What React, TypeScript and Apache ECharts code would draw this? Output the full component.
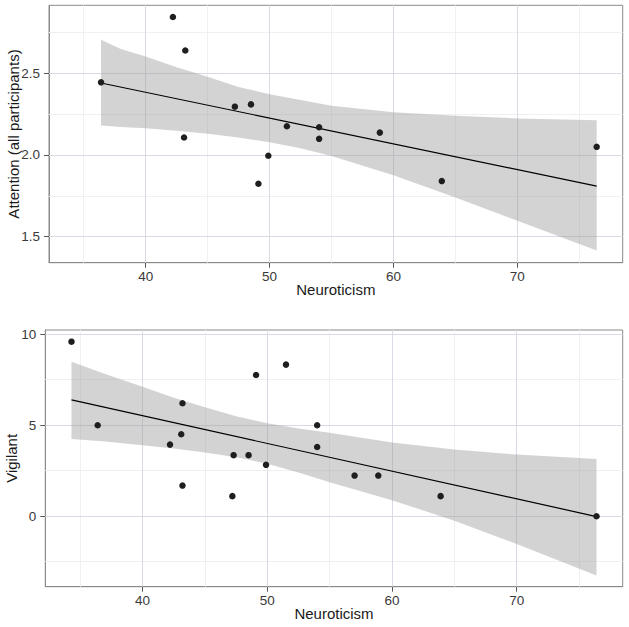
import React, { useEffect, useRef } from "react";
import * as echarts from "echarts";

// ---- data ----
const xTicks = [40, 50, 60, 70];
const xMinor = [35, 45, 55, 65, 75];
const attnTicks = [1.5, 2.0, 2.5];
const attnMinor = [1.75, 2.25, 2.75];
const vigTicks = [0, 5, 10];
const vigMinor = [-2.5, 2.5, 7.5];

const attnX = [36.4, 42.2, 43.2, 43.1, 47.2, 48.5, 51.4, 49.9, 49.1, 54.0, 54.0, 58.9, 63.9, 76.4];
const attnY = [2.445, 2.845, 2.64, 2.107, 2.296, 2.31, 2.176, 1.995, 1.824, 2.17, 2.099, 2.137, 1.84, 2.05];

const vigX = [34.3, 36.4, 43.2, 43.1, 42.2, 43.2, 47.3, 47.2, 48.5, 49.1, 49.9, 51.5, 54.0, 54.0, 57.0, 58.9, 63.9, 76.4];
const vigY = [9.58, 4.99, 6.2, 4.5, 3.93, 1.68, 3.35, 1.1, 3.35, 7.75, 2.82, 8.32, 4.99, 3.8, 2.23, 2.23, 1.1, 0.0];

const attnFitX = [36.4, 76.4];
const attnFitY = [2.441, 1.809];
const vigFitX = [34.3, 76.4];
const vigFitY = [6.38, -0.02];

const attnBandX = [36.4, 38, 40, 42.5, 45, 47.5, 50, 52.5, 55, 60, 65, 70, 76.4];
const attnBandLo = [2.18, 2.172, 2.163, 2.148, 2.13, 2.107, 2.078, 2.041, 1.994, 1.876, 1.74, 1.597, 1.414];
const attnBandHi = [2.706, 2.65, 2.603, 2.537, 2.479, 2.417, 2.372, 2.337, 2.302, 2.262, 2.24, 2.224, 2.212];

const vigBandX = [34.3, 37, 40, 42.5, 45, 47.5, 50, 52.5, 55, 60, 65, 70, 76.4];
const vigBandLo = [4.24, 4.1, 3.9, 3.72, 3.5, 3.24, 2.88, 2.4, 1.87, 0.88, -0.25, -1.52, -3.25];
const vigBandHi = [8.48, 7.8, 7.1, 6.5, 5.98, 5.48, 5.1, 4.82, 4.58, 4.05, 3.66, 3.38, 3.14];

const FONT = "'Liberation Sans', Arial, Helvetica, sans-serif";
const MAJOR = "#dadae5";
const MINOR = "#f0f0f4";

function panelSeries(
  idx: number,
  px: number[], py: number[],
  fx: number[], fy: number[],
  bx: number[], blo: number[], bhi: number[],
  yMajor: number[], yMinor: number[]
) {
  const gridLines: any[] = [];
  xMinor.forEach((v) => gridLines.push({ xAxis: v, lineStyle: { color: MINOR } }));
  yMinor.forEach((v) => gridLines.push({ yAxis: v, lineStyle: { color: MINOR } }));
  xTicks.forEach((v) => gridLines.push({ xAxis: v, lineStyle: { color: MAJOR } }));
  yMajor.forEach((v) => gridLines.push({ yAxis: v, lineStyle: { color: MAJOR } }));
  return [
    {
      type: "custom",
      xAxisIndex: idx,
      yAxisIndex: idx,
      z: 2,
      silent: true,
      data: bx.map((x, i) => [x, blo[i], bhi[i]]),
      dimensions: ["x", "lo", "hi"],
      encode: { x: 0, y: [1, 2] },
      renderItem: (params: any, api: any) => {
        if (params.dataIndex !== 0) return null;
        const pts: number[][] = [];
        for (let i = 0; i < bx.length; i++) pts.push(api.coord([bx[i], bhi[i]]));
        for (let i = bx.length - 1; i >= 0; i--) pts.push(api.coord([bx[i], blo[i]]));
        return {
          type: "polygon",
          shape: { points: pts },
          style: { fill: "rgba(150,150,150,0.42)", stroke: "none" },
        };
      },
      markLine: {
        silent: true,
        z: 1,
        symbol: ["none", "none"],
        label: { show: false },
        emphasis: { disabled: true },
        lineStyle: { type: "solid", width: 1 },
        data: gridLines,
      },
    },
    {
      type: "line",
      xAxisIndex: idx,
      yAxisIndex: idx,
      z: 3,
      silent: true,
      showSymbol: false,
      data: fx.map((x, i) => [x, fy[i]]),
      lineStyle: { color: "#000", width: 1.2 },
    },
    {
      type: "scatter",
      xAxisIndex: idx,
      yAxisIndex: idx,
      z: 4,
      silent: true,
      symbolSize: 6.5,
      itemStyle: { color: "#1e1e1e", opacity: 1 },
      data: px.map((x, i) => [x, py[i]]),
    },
  ];
}

function xAxisCfg(idx: number) {
  return {
    type: "value",
    gridIndex: idx,
    min: 32.2,
    max: 78.5,
    name: "Neuroticism",
    nameLocation: "middle",
    nameGap: 19,
    nameMoveOverlap: false,
    nameTextStyle: { fontFamily: FONT, fontSize: 15, color: "#1a1a1a" },
    axisLine: { show: true, onZero: false, lineStyle: { color: "#8a8a8a", width: 1 } },
    axisTick: { show: true, length: 5, customValues: xTicks, lineStyle: { color: "#555" } },
    axisLabel: {
      customValues: xTicks,
      margin: 7,
      fontFamily: FONT,
      fontSize: 13.5,
      color: "#3a3a3a",
    },
    splitLine: { show: false },
    minorSplitLine: { show: false },
  };
}

function yAxisCfg(idx: number, name: string, min: number, max: number, ticks: number[], dec: number, gap: number) {
  return {
    type: "value",
    gridIndex: idx,
    min,
    max,
    name,
    nameLocation: "middle",
    nameGap: gap,
    nameMoveOverlap: false,
    nameTextStyle: { fontFamily: FONT, fontSize: 15, color: "#1a1a1a" },
    axisLine: { show: true, onZero: false, lineStyle: { color: "#8a8a8a", width: 1 } },
    axisTick: { show: true, length: 5, customValues: ticks, lineStyle: { color: "#555" } },
    axisLabel: {
      customValues: ticks,
      margin: 9,
      fontFamily: FONT,
      fontSize: 13.5,
      color: "#3a3a3a",
      formatter: (v: number) => v.toFixed(dec),
    },
    splitLine: { show: false },
    minorSplitLine: { show: false },
  };
}

export default function App() {
  const ref = useRef<HTMLDivElement>(null);
  useEffect(() => {
    document.body.style.margin = "0";
    if (!ref.current) return;
    const chart = echarts.init(ref.current, undefined, { renderer: "svg" });
    chart.setOption({
      animation: false,
      backgroundColor: "#fff",
      grid: [
        {
          left: 49, top: 5.3, width: 573.7, height: 257.4,
          show: true, backgroundColor: "#fff", borderColor: "#8a8a8a", borderWidth: 1,
          outerBoundsMode: "none",
        },
        {
          left: 45.3, top: 330, width: 577.4, height: 256.7,
          show: true, backgroundColor: "#fff", borderColor: "#8a8a8a", borderWidth: 1,
          outerBoundsMode: "none",
        },
      ],
      xAxis: [xAxisCfg(0), xAxisCfg(1)],
      yAxis: [
        yAxisCfg(0, "Attention (all participants)", 1.34, 2.917, attnTicks, 1, 28),
        yAxisCfg(1, "Vigilant", -3.87, 10.22, vigTicks, 0, 26),
      ],
      series: [
        ...panelSeries(0, attnX, attnY, attnFitX, attnFitY, attnBandX, attnBandLo, attnBandHi, attnTicks, attnMinor),
        ...panelSeries(1, vigX, vigY, vigFitX, vigFitY, vigBandX, vigBandLo, vigBandHi, vigTicks, vigMinor),
      ],
    });
    return () => chart.dispose();
  }, []);
  return <div ref={ref} style={{ width: 629, height: 627 }} />;
}
